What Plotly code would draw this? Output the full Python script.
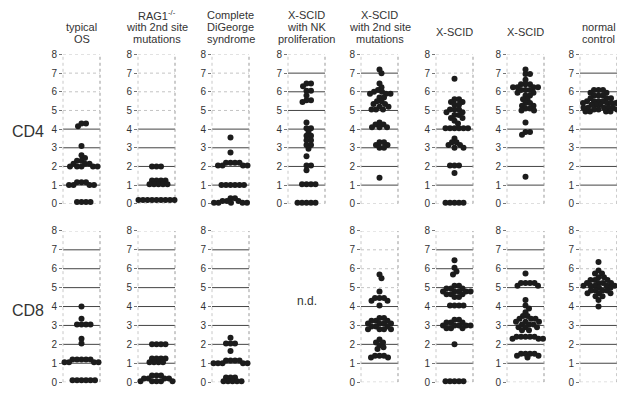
import plotly.graph_objects as go

W, H = 617, 393

# ---------------- data ----------------
col_titles = [
    ["typical", "OS"],
    ["RAG1<sup>-/-</sup>", "with 2nd site", "mutations"],
    ["Complete", "DiGeorge", "syndrome"],
    ["X-SCID", "with NK", "proliferation"],
    ["X-SCID", "with 2nd site", "mutations"],
    ["X-SCID"],
    ["X-SCID"],
    ["normal", "control"],
]
row_labels = ["CD4", "CD8"]
y_ticks = [0, 1, 2, 3, 4, 5, 6, 7, 8]

cd4_typical_os = [4.3, 4.3, 4.15, 3.1, 2.6, 2.45, 2.3, 2.3, 2.15, 2.15, 2.15,
                  2.0, 2.0, 2.0, 2.0, 2.0, 1.15, 1.15, 1.15,
                  1.0, 1.0, 1.0, 1.0, 0.1, 0.1, 0.1, 0.1]
cd4_rag1 = [2.0, 2.0, 2.0, 1.25, 1.25, 1.25, 1.25, 1.05, 1.05, 1.05, 1.05, 1.05,
            0.2, 0.2, 0.2, 0.2, 0.2, 0.2, 0.2, 0.2, 0.2,
            0.05, 0.05, 0.05, 0.05, 0.05, 0.05, 0.05, 0.05, 0.05, 0.05]
cd4_digeorge = [3.55, 2.75, 2.2, 2.2, 2.2, 2.2, 2.05, 2.05, 2.05, 2.05,
                1.0, 1.0, 1.0, 1.0, 1.0, 1.0, 0.3, 0.3, 0.15, 0.15, 0.15,
                0.05, 0.05, 0.05, 0.05, 0.05]
cd4_xscid_nk = [6.45, 6.45, 6.3, 6.05, 6.05, 5.8, 5.55, 5.55, 5.45, 4.35,
                4.05, 4.05, 3.85, 3.65, 3.65, 3.4, 3.4, 3.15, 3.15, 2.95, 2.55,
                2.05, 2.05, 1.8, 1.05, 1.05, 1.05, 1.05,
                0.05, 0.05, 0.05, 0.05, 0.05]
cd4_xscid_2nd = [7.2, 7.0, 6.45, 6.25, 6.1, 6.0, 6.0, 5.9, 5.9, 5.9, 5.7, 5.7,
                 5.5, 5.5, 5.35, 5.35, 5.2, 5.2, 5.05, 5.05, 5.05, 4.35, 4.25,
                 4.25, 4.1, 4.1, 4.1, 3.3, 3.3, 3.15, 3.15, 3.0, 3.0, 1.4]
cd4_xscid_a = [6.7, 5.6, 5.6, 5.45, 5.45, 5.3, 5.3, 5.05, 5.05, 5.05, 4.9, 4.9,
               4.75, 4.75, 4.6, 4.6, 4.45, 4.3, 4.05, 4.05, 4.05, 4.05, 4.05,
               4.05, 3.5, 3.3, 3.3, 3.15, 3.15, 3.0, 3.0, 2.05, 2.05, 2.05,
               1.65, 0.05, 0.05, 0.05, 0.05, 0.05]
cd4_xscid_b = [7.2, 6.95, 6.95, 6.65, 6.4, 6.4, 6.4, 6.25, 6.25, 6.25, 6.25,
               6.1, 6.1, 6.1, 5.95, 5.95, 5.8, 5.8, 5.6, 5.6, 5.4, 5.4, 5.25,
               5.25, 5.1, 5.1, 5.0, 5.0, 4.35, 3.85, 3.85, 3.7, 1.45]
cd4_normal = [6.1, 6.1, 6.1, 5.95, 5.95, 5.8, 5.8, 5.8, 5.65, 5.65, 5.65,
              5.5, 5.5, 5.5, 5.5, 5.4, 5.4, 5.4, 5.4, 5.4, 5.3, 5.3, 5.3, 5.3,
              5.3, 5.15, 5.15, 5.15, 5.15, 5.15, 5.05, 5.05, 5.05, 5.05, 5.05,
              5.05, 4.95, 4.95, 4.95, 4.95, 4.95, 4.95]

cd8_typical_os = [4.0, 3.35, 3.05, 3.05, 3.05, 3.05, 2.3, 2.05,
                  1.2, 1.2, 1.2, 1.2, 1.2, 1.05, 1.05, 1.05, 1.05,
                  0.1, 0.1, 0.1, 0.1, 0.1, 0.1]
cd8_rag1 = [2.0, 2.0, 2.0, 2.0, 1.25, 1.25, 1.25, 1.25,
            1.05, 1.05, 1.05, 1.05, 0.35, 0.35, 0.35,
            0.2, 0.2, 0.2, 0.2, 0.05, 0.05, 0.05, 0.05, 0.05]
cd8_digeorge = [2.35, 2.05, 2.05, 2.05, 1.65, 1.15, 1.15, 1.15, 1.15,
                1.0, 1.0, 1.0, 1.0, 1.0, 0.25, 0.25, 0.25,
                0.05, 0.05, 0.05, 0.05, 0.05]
cd8_xscid_nk = None  # n.d.
cd8_xscid_2nd = [5.7, 5.5, 4.8, 4.45, 4.45, 4.45, 4.3, 4.3, 4.05, 3.4, 3.4,
                 3.25, 3.25, 3.25, 3.1, 3.1, 3.1, 3.1, 2.95, 2.95, 2.95,
                 2.8, 2.8, 2.8, 2.8, 2.25, 2.1, 2.1, 1.95, 1.85, 1.75,
                 1.4, 1.4, 1.4, 1.3, 1.3]
cd8_xscid_a = [6.45, 6.05, 5.85, 5.7, 5.1, 5.1, 4.95, 4.95, 4.95, 4.8, 4.8,
               4.8, 4.8, 4.8, 4.65, 4.65, 4.65, 4.5, 4.5, 4.05, 4.05, 4.05,
               4.05, 3.3, 3.3, 3.15, 3.15, 3.15, 3.0, 3.0, 3.0, 3.0, 3.0,
               2.85, 2.85, 2.85, 2.0, 0.05, 0.05, 0.05, 0.05, 0.05]
cd8_xscid_b = [5.75, 5.25, 5.25, 5.25, 5.25, 5.1, 5.1, 4.35, 4.05, 3.9, 3.7,
               3.5, 3.5, 3.35, 3.35, 3.35, 3.2, 3.2, 3.2, 3.05, 3.05, 3.05,
               2.9, 2.9, 2.9, 2.75, 2.75, 2.4, 2.4, 2.4, 2.4, 2.4, 2.3, 2.3,
               2.3, 1.5, 1.5, 1.5, 1.5, 1.4, 1.4, 1.3]
cd8_normal = [6.35, 5.9, 5.75, 5.75, 5.55, 5.55, 5.4, 5.4, 5.4, 5.25, 5.25,
              5.25, 5.25, 5.1, 5.1, 5.1, 5.1, 5.1, 5.0, 5.0, 5.0, 5.0, 5.0,
              5.0, 5.0, 4.85, 4.85, 4.85, 4.85, 4.7, 4.7, 4.7, 4.55, 4.55,
              4.35, 4.0]

rows_data = [
    [cd4_typical_os, cd4_rag1, cd4_digeorge, cd4_xscid_nk, cd4_xscid_2nd,
     cd4_xscid_a, cd4_xscid_b, cd4_normal],
    [cd8_typical_os, cd8_rag1, cd8_digeorge, cd8_xscid_nk, cd8_xscid_2nd,
     cd8_xscid_a, cd8_xscid_b, cd8_normal],
]

# ---------------- layout geometry (pixels) ----------------
col_left = [63, 138, 212, 288, 361, 436, 507, 580]
col_width = 37
row_y0 = [204, 388]   # pixel of value 0
row_y8 = [50, 232]    # pixel of value 8
solid_top = [[4, 4, 4, 7, 7, 4, 4, 7], [7, 7, 7, 0, 4, 7, 7, 5]]

DOT = 6
FONT = "Liberation Sans, Arial, sans-serif"


def swarm(values, px_per_unit, d=4.3):
    placed = []
    xs = []
    cands = [0.0]
    for k in range(1, 200):
        cands += [k * 0.5, -k * 0.5]
    for v in values:
        y = v * px_per_unit
        for c in cands:
            if all((c - px) ** 2 + (y - py) ** 2 >= d * d for px, py in placed):
                break
        placed.append((c, y))
        xs.append(c)
    return xs


fig = go.Figure()
layout = dict(width=W, height=H, margin=dict(l=0, r=0, t=0, b=0),
              paper_bgcolor="white", plot_bgcolor="white", showlegend=False,
              font=dict(family=FONT, color="#333"))
shapes = []
annotations = []

n = 0
for r in range(2):
    ppu = (row_y0[r] - row_y8[r]) / 8.0
    for c in range(8):
        n += 1
        xa = "x" if n == 1 else f"x{n}"
        ya = "y" if n == 1 else f"y{n}"
        l = col_left[c]
        rgt = min(l + col_width, W)
        w = rgt - l
        vals = rows_data[r][c]
        visible = vals is not None
        layout[f"xaxis{n}"] = dict(domain=[l / W, rgt / W], range=[-w / 2, w / 2],
                                   visible=False, anchor=ya, fixedrange=True)
        layout[f"yaxis{n}"] = dict(domain=[1 - row_y0[r] / H, 1 - row_y8[r] / H],
                                   range=[0, 8], anchor=xa, visible=visible,
                                   tickvals=y_ticks, ticks="outside", ticklen=3,
                                   tickcolor="#777", showgrid=False,
                                   zeroline=False, showline=False,
                                   tickfont=dict(size=10, color="#333", family=FONT))
        if not visible:
            annotations.append(dict(text="n.d.", x=(l + w / 2) / W, xref="paper",
                                    xanchor="center", yanchor="middle",
                                    y=1 - 304 / H, yref="paper", showarrow=False,
                                    font=dict(size=12, color="#333")))
            continue
        xs = swarm(vals, ppu)
        fig.add_trace(go.Scatter(x=xs, y=vals, mode="markers", xaxis=xa, yaxis=ya,
                                 cliponaxis=False, hoverinfo="y",
                                 marker=dict(size=DOT, color="#1c1c1c", line=dict(width=0))))
        for k in y_ticks:
            solid = 1 <= k <= solid_top[r][c]
            shapes.append(dict(type="line", xref=f"{xa} domain", yref=ya,
                               x0=0, x1=1, y0=k, y1=k, layer="below",
                               line=dict(color="#444" if solid else "#c4c4c4",
                                         width=1, dash="solid" if solid else "dot")))
        for xd, col in ((0, "#c8c8c8"), (1, "#999")):
            shapes.append(dict(type="line", xref=f"{xa} domain", yref=ya,
                               x0=xd, x1=xd, y0=0, y1=8, layer="below",
                               line=dict(color=col, width=1, dash="dot")))

# column titles
for c, lines in enumerate(col_titles):
    cx = (col_left[c] + min(col_left[c] + col_width, W)) / 2 / W
    nl = len(lines)
    for i, t in enumerate(lines):
        py = 27 if nl == 1 else 34 - (nl - 1 - i) * 12.5
        annotations.append(dict(text=t, x=cx, xref="paper", xanchor="center",
                                y=1 - py / H, yref="paper", yanchor="middle",
                                showarrow=False,
                                font=dict(size=11, color="#333")))

# row labels
for r, lab in enumerate(row_labels):
    py = [129, 314][r]
    annotations.append(dict(text=lab, x=28 / W, xref="paper", xanchor="center",
                            y=1 - py / H, yref="paper", yanchor="middle",
                            showarrow=False, font=dict(size=16, color="#333")))

layout["shapes"] = shapes
layout["annotations"] = annotations
fig.update_layout(**layout)
fig.write_html("out.html", config={"displayModeBar": False},
               post_script="document.body.style.margin='0';"
                           "document.body.style.padding='0';")
